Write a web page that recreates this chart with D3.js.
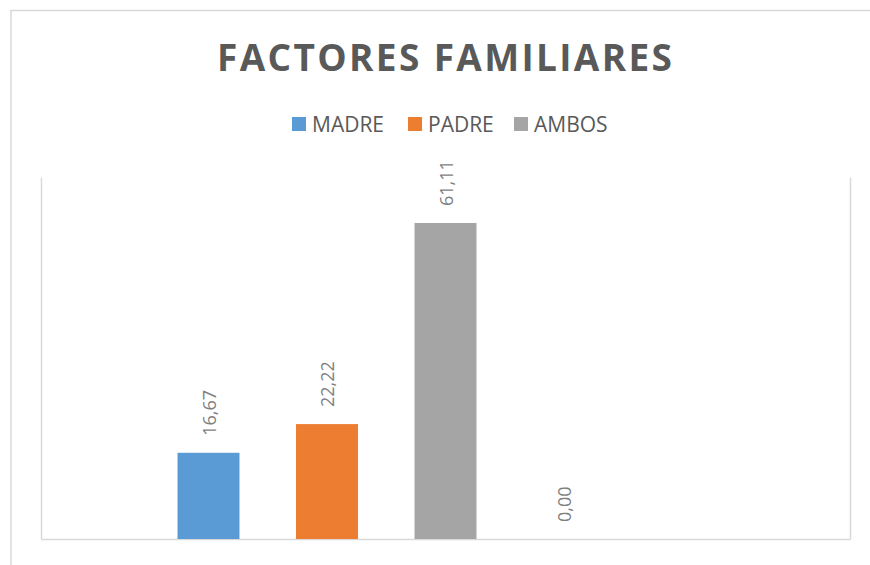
<!DOCTYPE html>
<html>
<head>
<meta charset="utf-8">
<script src="https://cdn.jsdelivr.net/npm/d3@7"></script>
<style>
  body { margin: 0; background: #fff; }
  text { font-family: "Open Sans", sans-serif; }
</style>
</head>
<body>
<script>
// Chart data
var series = ["MADRE", "PADRE", "AMBOS", "S4", "S5"];
var values = [16.67, 22.22, 61.11, 0, null];
var legendNames = ["MADRE", "PADRE", "AMBOS"];
var colors = ["#5b9bd5", "#ed7d31", "#a5a5a5", "#ffc000", "#4472c4"];

var svgWidth = 870;
var svgHeight = 565;
var margin = { top: 177, right: 20, bottom: 26, left: 41 };
var plotRight = 850;

var svg = d3.select("body")
            .append("svg")
            .attr("width", svgWidth)
            .attr("height", svgHeight);

// outer chart border
svg.append("rect")
   .attr("x", 11)
   .attr("y", 10.5)
   .attr("width", 900)
   .attr("height", 600)
   .attr("fill", "none")
   .attr("stroke", "#d9d9d9")
   .attr("stroke-width", 1.5);

// title
svg.append("text")
   .attr("x", 444.5)
   .attr("y", 71)
   .attr("text-anchor", "middle")
   .attr("font-size", 37)
   .attr("font-weight", "bold")
   .attr("fill", "#595959")
   .attr("textLength", 455)
   .attr("lengthAdjust", "spacing")
   .text("FACTORES FAMILIARES");

// scales
var x = d3.scaleBand()
          .domain(series)
          .range([margin.left, plotRight])
          .paddingInner(0.477)
          .paddingOuter(1.152);

var y = d3.scaleLinear()
          .domain([0, 70])
          .range([svgHeight - margin.bottom, margin.top]);

// axes (no ticks, just the lines)
var axisColor = "#d9d9d9";
svg.append("g")
   .attr("transform", `translate(${margin.left}, 0)`)
   .call(d3.axisLeft(y).tickValues([]).tickSizeOuter(0))
   .select(".domain").attr("stroke", axisColor).attr("stroke-width", 1.5);

svg.append("g")
   .attr("transform", `translate(${plotRight}, 0)`)
   .call(d3.axisRight(y).tickValues([]).tickSizeOuter(0))
   .select(".domain").attr("stroke", axisColor).attr("stroke-width", 1.5);

svg.append("g")
   .attr("transform", `translate(0, ${y(0)})`)
   .call(d3.axisBottom(x).tickValues([]).tickSizeOuter(0))
   .select(".domain").attr("stroke", axisColor).attr("stroke-width", 1.5);

// bars
var data = series.map((s, i) => ({ name: s, value: values[i], color: colors[i] }));

svg.selectAll("rect.bar")
   .data(data.filter(d => d.value !== null))
   .enter()
   .append("rect")
   .attr("class", "bar")
   .attr("x", d => x(d.name))
   .attr("width", x.bandwidth())
   .attr("y", d => y(d.value))
   .attr("height", d => y(0) - y(d.value))
   .attr("fill", d => d.color);

// value labels, rotated
svg.selectAll("text.val")
   .data(data.filter(d => d.value !== null))
   .enter()
   .append("text")
   .attr("class", "val")
   .attr("transform", d => `translate(${x(d.name) + x.bandwidth() / 2 + 1}, ${y(d.value) - 17}) rotate(-90)`)
   .attr("dy", "0.35em")
   .attr("font-size", 18)
   .attr("fill", "#7f7f7f")
   .text(d => d3.format(".2f")(d.value).replace(".", ","));

// legend
var legendX = [292, 408, 514];
var legend = svg.selectAll("g.legend")
                .data(legendNames)
                .enter()
                .append("g")
                .attr("class", "legend")
                .attr("transform", (d, i) => `translate(${legendX[i]}, 117)`);

legend.append("rect")
      .attr("width", 14)
      .attr("height", 14)
      .attr("fill", (d, i) => colors[i]);

legend.append("text")
      .attr("x", 20)
      .attr("y", 15)
      .attr("font-size", 21)
      .attr("fill", "#595959")
      .text(d => d);
</script>
</body>
</html>
